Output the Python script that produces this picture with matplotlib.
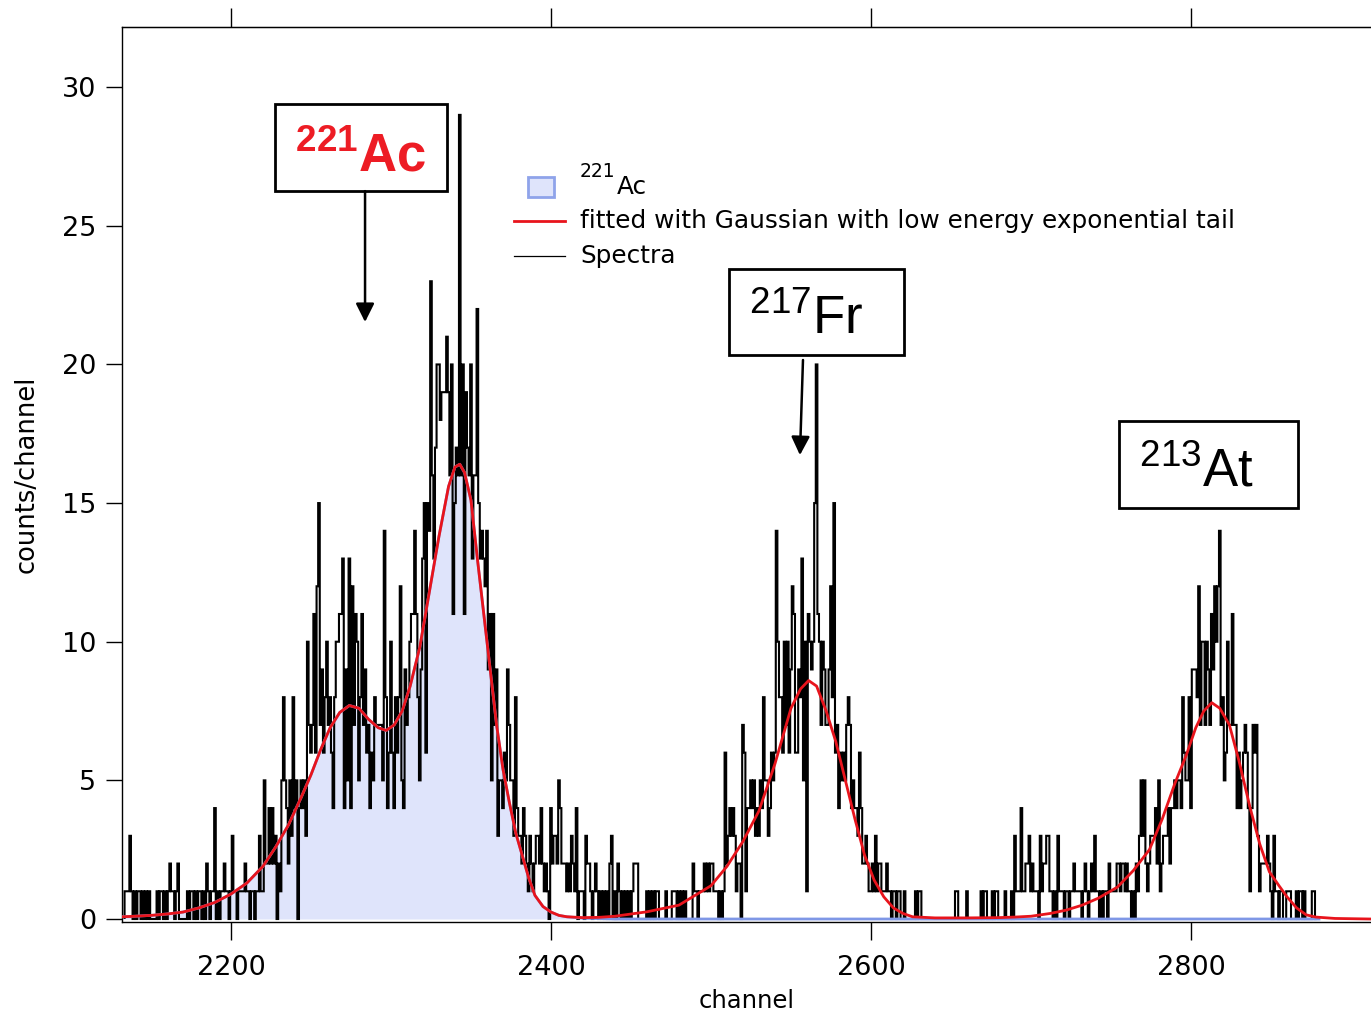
import numpy as np
import matplotlib.pyplot as plt
from matplotlib.patches import Rectangle

plt.rcParams['font.family'] = ['DejaVu Sans']
plt.rcParams['mathtext.fontset'] = 'custom'
plt.rcParams['mathtext.rm'] = 'Liberation Sans'
plt.rcParams['mathtext.bf'] = 'Liberation Sans:bold'

# counts per channel (first channel = 2134)
start_ch = 2134
counts_ac = [
    1, 1, 1, 3, 1, 0, 1, 0, 1, 1,
    0, 1, 0, 1, 0, 1, 0, 0, 0, 0,
    1, 0, 1, 1, 0, 1, 0, 1, 2, 1,
    1, 0, 1, 2, 0, 0, 0, 0, 0, 1,
    0, 1, 1, 0, 1, 0, 1, 1, 0, 1,
    0, 2, 1, 0, 1, 1, 4, 0, 1, 0,
    1, 1, 2, 1, 1, 0, 1, 3, 1, 1,
    0, 1, 1, 1, 1, 2, 1, 1, 0, 1,
    1, 0, 1, 1, 3, 1, 1, 5, 2, 2,
    4, 2, 4, 2, 3, 0, 2, 1, 5, 8,
    5, 4, 2, 5, 3, 8, 4, 5, 0, 4,
    5, 4, 5, 3, 10, 7, 6, 7, 11, 6,
    12, 15, 7, 9, 6, 8, 10, 7, 8, 6,
    4, 8, 10, 10, 11, 11, 13, 4, 9, 5,
    13, 4, 12, 7, 11, 10, 5, 8, 11, 7,
    9, 6, 7, 4, 6, 5, 8, 7, 7, 7,
    7, 5, 14, 8, 4, 6, 10, 6, 4, 8,
    6, 8, 12, 5, 4, 9, 7, 8, 10, 11,
    11, 14, 11, 8, 5, 9, 13, 15, 6, 15,
    14, 23, 16, 13, 17, 20, 20, 18, 19, 19,
    19, 21, 19, 16, 20, 11, 15, 17, 16, 29,
    16, 20, 11, 19, 17, 16, 20, 13, 16, 16,
    22, 15, 13, 14, 13, 12, 14, 9, 11, 5,
    11, 7, 9, 3, 5, 5, 4, 6, 5, 9,
    7, 5, 5, 3, 8, 4, 3, 3, 2, 4,
    3, 2, 1, 3, 2, 1, 2, 3, 3, 2,
    4, 2, 1, 2, 1, 0, 4, 2, 3, 3,
]
counts_gap1 = [
    2, 5, 4, 2, 2, 2, 1, 2, 1, 3,
    2, 1, 4, 0, 1, 1, 1, 0, 3, 2,
    2, 1, 0, 1, 2, 1, 0, 1, 0, 1,
    0, 1, 0, 2, 3, 0, 1, 0, 2, 1,
    0, 1, 0, 1, 0, 1, 0, 1, 2, 2,
    2, 0, 0, 0, 0, 0, 1, 0, 1, 0,
    1, 0, 1, 1, 0, 0, 0, 0, 1, 0,
    0, 0, 1, 1, 1, 0, 1, 0, 1, 0,
    1, 0, 0, 0, 0, 2, 1, 1, 0, 1,
    1, 1, 2, 1, 2, 1, 2, 2, 1, 1,
]
counts_fr = [
    1, 0, 1, 0, 1, 6, 2, 3, 4, 3,
    4, 3, 1, 2, 2, 0, 7, 6, 1, 4,
    4, 5, 4, 5, 3, 4, 3, 5, 4, 8,
    5, 5, 3, 4, 6, 5, 6, 14, 10, 8,
    8, 6, 10, 7, 10, 6, 9, 12, 11, 6,
    6, 9, 8, 13, 5, 10, 1, 11, 10, 9,
    10, 15, 20, 11, 10, 7, 10, 9, 7, 7,
    9, 12, 8, 15, 6, 7, 4, 6, 5, 6,
    5, 7, 8, 7, 4, 5, 4, 4, 3, 6,
    4, 2, 2, 3, 2, 1, 1, 2, 1, 3,
    1, 2, 2, 1, 1, 1, 2, 1, 1, 0,
    1, 1, 0, 1, 1, 0, 0, 1, 0, 0,
]
counts_gap2 = [
    0, 0, 0, 0, 1, 0, 1, 1, 0, 0,
    0, 0, 0, 0, 0, 0, 0, 0, 0, 0,
    0, 0, 0, 0, 0, 0, 0, 0, 0, 1,
    1, 0, 0, 0, 0, 0, 1, 0, 0, 0,
    0, 0, 0, 0, 0, 1, 0, 1, 1, 0,
    0, 0, 1, 0, 1, 1, 0, 0, 0, 0,
    1, 0, 0, 0, 1, 0, 3, 1, 1, 1,
    4, 1, 1, 2, 2, 3, 1, 2, 1, 1,
    1, 0, 3, 1, 2, 2, 3, 3, 1, 1,
    0, 1, 0, 3, 1, 1, 1, 0, 1, 1,
]
counts_at = [
    0, 1, 1, 2, 1, 1, 1, 1, 0, 1,
    2, 1, 0, 1, 2, 1, 3, 1, 1, 0,
    1, 0, 1, 1, 0, 2, 1, 1, 1, 1,
    2, 2, 1, 2, 2, 1, 2, 1, 1, 0,
    1, 0, 2, 1, 3, 5, 3, 5, 2, 1,
    2, 3, 3, 3, 4, 2, 5, 1, 2, 3,
    3, 3, 4, 2, 4, 4, 5, 4, 5, 5,
    4, 8, 6, 5, 5, 8, 4, 9, 9, 9,
    8, 12, 7, 10, 10, 7, 10, 9, 7, 11,
    9, 12, 10, 12, 14, 7, 8, 5, 6, 10,
    7, 7, 11, 7, 7, 4, 6, 4, 5, 6,
    7, 6, 4, 1, 4, 7, 6, 7, 3, 1,
    2, 2, 2, 2, 3, 2, 1, 0, 3, 1,
    1, 0, 1, 1, 0, 0, 1, 1, 1, 0,
    0, 0, 1, 0, 1, 1, 0, 1, 0, 0,
    0, 0, 1, 1, 0,
]

# fitted curve (all three peaks), sampled off the red line
fit_ch = [2132, 2140, 2150, 2160, 2170, 2180, 2190, 2200, 2210, 2220,
          2228, 2236, 2244, 2250, 2256, 2262, 2268, 2274, 2280, 2286,
          2292, 2297, 2302, 2307, 2312, 2318, 2324, 2330, 2336, 2340,
          2343, 2346, 2350, 2354, 2358, 2362, 2366, 2370, 2374, 2378,
          2382, 2386, 2390, 2395, 2400, 2405, 2410, 2420, 2430, 2440,
          2450, 2460, 2470, 2480, 2490, 2500, 2510, 2520, 2530, 2540,
          2550, 2556, 2561, 2566, 2572, 2578, 2584, 2590, 2596, 2602,
          2608, 2614, 2620, 2626, 2640, 2660, 2680, 2690, 2700, 2712,
          2722, 2732, 2742, 2754, 2764, 2774, 2782, 2790, 2797, 2803,
          2808, 2813, 2818, 2824, 2830, 2837, 2843, 2849, 2855, 2860,
          2866, 2872, 2878, 2890, 2912]
fit_total = [0.08, 0.1, 0.13, 0.18, 0.25, 0.4, 0.6, 0.9, 1.3, 1.9,
             2.6, 3.4, 4.4, 5.2, 6.1, 6.9, 7.45, 7.7, 7.6, 7.2,
             6.9, 6.8, 7.0, 7.5, 8.4, 9.8, 11.8, 13.8, 15.6, 16.3,
             16.4, 16.1, 15.1, 13.0, 11.0, 9.0, 7.0, 5.4, 4.2, 3.1,
             2.3, 1.5, 0.85, 0.45, 0.25, 0.13, 0.08, 0.05, 0.06, 0.1,
             0.18, 0.26, 0.38, 0.5, 0.85, 1.2, 1.9, 2.8, 3.9, 5.6,
             7.6, 8.3, 8.6, 8.4, 7.5, 6.4, 5.0, 3.6, 2.3, 1.4,
             0.8, 0.4, 0.2, 0.08, 0.04, 0.04, 0.05, 0.07, 0.1, 0.2,
             0.32, 0.5, 0.75, 1.15, 1.75, 2.5, 3.6, 4.9, 5.9, 6.9,
             7.5, 7.8, 7.6, 7.0, 5.7, 4.0, 2.7, 1.7, 1.2, 0.8,
             0.4, 0.15, 0.07, 0.02, 0.0]

# 221Ac part of the fit (same as total below 2410, zero further on)
ac_tail_ch = [2420, 2440, 2880]
ac_tail_fit = [0.03, 0.0, 0.0]

x_ticks = [2200, 2400, 2600, 2800]
y_ticks = [0, 5, 10, 15, 20, 25, 30]

counts = np.array(counts_ac + counts_gap1 + counts_fr + counts_gap2 + counts_at)
edges = np.arange(len(counts) + 1) + start_ch - 0.5
n_ac = fit_ch.index(2410) + 1
ac_ch = fit_ch[:n_ac] + ac_tail_ch
ac_fit = fit_total[:n_ac] + ac_tail_fit

W, H = 1371, 1015
fig = plt.figure(figsize=(W / 100, H / 100), dpi=100)
ax = fig.add_axes([122 / W, 1 - 921.5 / H, 1249 / W, 894.5 / H])

ax.fill_between(ac_ch, ac_fit, 0, color='#dfe4fb', lw=0, zorder=1)
ax.stairs(counts, edges, color='black', lw=1.5, zorder=2)
ax.plot(ac_ch, ac_fit, color='#7f97e6', lw=2, zorder=3)
ax.plot(fit_ch, fit_total, color='#e8141c', lw=2, zorder=4)

ax.set_xlim(2131.9, 2912.5)
ax.set_ylim(-0.09, 32.17)
ax.set_xticks(x_ticks)
ax.set_yticks(y_ticks)
ax.tick_params(axis='x', direction='out', length=13, width=1, pad=11, labelsize=19.5)
ax.tick_params(axis='y', direction='out', length=11.5, width=1, pad=7, labelsize=19.5)
ax.spines['right'].set_visible(False)
for s in ['left', 'bottom', 'top']:
    ax.spines[s].set_linewidth(1)

top = ax.secondary_xaxis('top')
top.set_xticks(x_ticks)
top.tick_params(direction='out', length=14, width=1, labeltop=False)

ax.set_xlabel('channel', fontsize=17.5, labelpad=6)
ax.set_ylabel('counts/channel', fontsize=18.5, labelpad=16)

# legend, drawn by hand
ax.add_patch(Rectangle((0.3251, 0.8100), 0.0208, 0.0224, transform=ax.transAxes,
                       facecolor='#dfe4fb', edgecolor='#8fa3ea', lw=2, zorder=6))
ax.plot([0.3138, 0.3547], [0.7831, 0.7831], transform=ax.transAxes, color='#e8141c', lw=2)
ax.plot([0.3138, 0.3547], [0.7440, 0.7440], transform=ax.transAxes, color='black', lw=0.9)
ax.text(0.3667, 0.8390, '221', transform=ax.transAxes, fontsize=13.5, va='center')
ax.text(0.3963, 0.8211, 'Ac', transform=ax.transAxes, fontsize=17.8, va='center')
ax.text(0.3667, 0.7831, 'fitted with Gaussian with low energy exponential tail',
        transform=ax.transAxes, fontsize=17.8, va='center')
ax.text(0.3667, 0.7440, 'Spectra', transform=ax.transAxes, fontsize=17.8, va='center')

# isotope boxes
boxes = [
    (2227.5, 26.25, 107.5, 3.14, 2240.0, 26.97, r'$^{\mathbf{221}}$Ac', '#ed1c24', 'bold'),
    (2511.3, 20.34, 109.3, 3.10, 2523.8, 21.10, r'$^{217}$Fr', 'black', 'normal'),
    (2755.0, 14.82, 111.9, 3.14, 2767.5, 15.61, r'$^{213}$At', 'black', 'normal'),
]
for bx, by, bw, bh, tx, ty, label, col, wt in boxes:
    ax.add_patch(Rectangle((bx, by), bw, bh, facecolor='white', edgecolor='black',
                           lw=2, zorder=6))
    ax.text(tx, ty, label, color=col, fontsize=38, fontweight=wt,
            fontfamily='Liberation Sans', va='baseline', ha='left', zorder=7)

arrow = dict(arrowstyle='-|>', color='black', lw=1.8, mutation_scale=28, shrinkA=0, shrinkB=0)
ax.annotate('', xy=(2283.8, 21.53), xytext=(2283.8, 26.25), arrowprops=arrow, zorder=7)
ax.annotate('', xy=(2555.6, 16.73), xytext=(2557.5, 20.16), arrowprops=arrow, zorder=7)

fig.savefig('out.png', dpi=100)
